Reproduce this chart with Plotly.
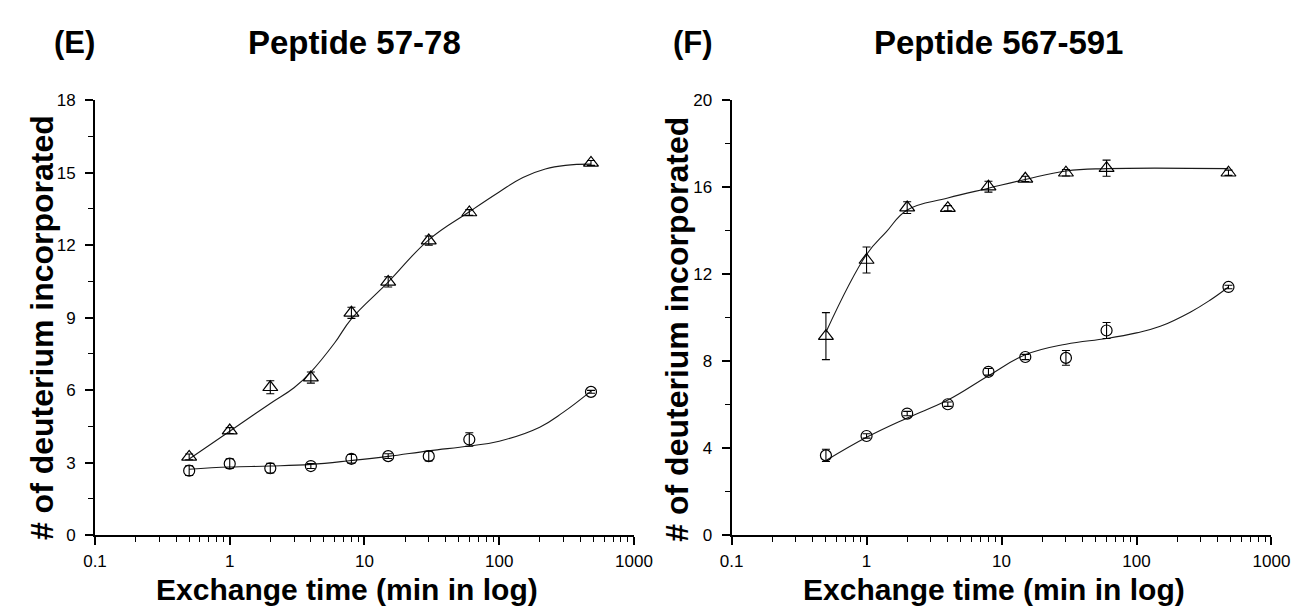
import plotly.graph_objects as go

# ---------------- data ----------------
time_min = [0.5, 1, 2, 4, 8, 15, 30, 60, 480]

# Panel E: Peptide 57-78
e_tri = [3.24, 4.33, 6.12, 6.52, 9.2, 10.48, 12.19, 13.35, 15.4]
e_tri_err = [0.12, 0.12, 0.27, 0.23, 0.23, 0.21, 0.19, 0.12, 0.1]
e_cir = [2.67, 2.96, 2.77, 2.86, 3.16, 3.27, 3.27, 3.96, 5.93]
e_cir_err = [0.2, 0.2, 0.2, 0.1, 0.18, 0.1, 0.2, 0.28, 0.06]

# Panel F: Peptide 567-591
f_tri = [9.15, 12.65, 15.06, 15.03, 16.02, 16.38, 16.66, 16.87, 16.66]
f_tri_err = [1.08, 0.6, 0.27, 0.12, 0.25, 0.12, 0.15, 0.37, 0.12]
f_cir = [3.67, 4.56, 5.59, 6.02, 7.51, 8.19, 8.15, 9.41, 11.41]
f_cir_err = [0.28, 0.1, 0.1, 0.1, 0.15, 0.12, 0.34, 0.37, 0.08]

# fitted curves
e_tri_fit_t = [0.5, 1, 2, 3, 4, 6, 8, 15, 30, 60, 100, 150, 220, 310, 480]
e_tri_fit = [3.15, 4.3, 5.45, 6.1, 6.75, 7.95, 8.95, 10.47, 12.22, 13.38, 14.2, 14.8, 15.15, 15.3, 15.35]
e_cir_fit_t = [0.5, 1, 2, 4, 8, 15, 30, 60, 100, 200, 300, 480]
e_cir_fit = [2.73, 2.82, 2.86, 2.93, 3.09, 3.26, 3.49, 3.69, 3.89, 4.47, 5.09, 5.96]
f_tri_fit_t = [0.5, 1, 1.4, 2, 4, 8, 15, 30, 60, 480]
f_tri_fit = [9.33, 12.9, 13.94, 14.95, 15.5, 15.95, 16.35, 16.74, 16.85, 16.85]
f_cir_fit_t = [0.5, 1, 2, 4, 8, 15, 30, 60, 100, 150, 250, 350, 480]
f_cir_fit = [3.43, 4.5, 5.39, 6.21, 7.33, 8.29, 8.78, 9.04, 9.3, 9.6, 10.25, 10.8, 11.41]

x_tick_vals = [0.1, 1, 10, 100, 1000]
x_tick_text = ["0.1", "1", "10", "100", "1000"]
e_y_ticks = [0, 3, 6, 9, 12, 15, 18]
f_y_ticks = [0, 4, 8, 12, 16, 20]

panel_labels = ["(E)", "(F)"]
panel_titles = ["Peptide 57-78", "Peptide 567-591"]
x_title = "Exchange time (min in log)"
y_title = "# of deuterium incorporated"

# ---------------- figure ----------------
W, H = 1311, 614
FONT = "Liberation Sans, Arial, Helvetica, sans-serif"
fig = go.Figure()

def px_x(p):
    return p / W

def px_y(p):
    return 1 - p / H

def add_panel(xa, ya, fit_sets, pt_sets):
    for t, v in fit_sets:
        fig.add_trace(go.Scatter(x=t, y=v, mode="lines", xaxis=xa, yaxis=ya,
                                 line=dict(color="#1a1a1a", width=1.1, shape="spline", smoothing=1.2),
                                 hoverinfo="skip", showlegend=False))
    for v, err, sym, size in pt_sets:
        fig.add_trace(go.Scatter(x=time_min, y=v, mode="markers", xaxis=xa, yaxis=ya,
                                 marker=dict(symbol=sym, size=size, color="black",
                                             line=dict(color="black", width=1.2)),
                                 error_y=dict(type="data", array=err, color="black",
                                              thickness=1.1, width=4),
                                 showlegend=False))

add_panel("x", "y",
          [(e_tri_fit_t, e_tri_fit), (e_cir_fit_t, e_cir_fit)],
          [(e_tri, e_tri_err, "triangle-up-open", 13), (e_cir, e_cir_err, "circle-open", 11)])
add_panel("x2", "y2",
          [(f_tri_fit_t, f_tri_fit), (f_cir_fit_t, f_cir_fit)],
          [(f_tri, f_tri_err, "triangle-up-open", 13), (f_cir, f_cir_err, "circle-open", 11)])

minor_x = [m * 10 ** k for k in (-1, 0, 1, 2) for m in range(2, 10)]

def xaxis(domain, anchor):
    return dict(type="log", domain=domain, anchor=anchor, range=[-1, 3],
                tickvals=x_tick_vals, ticktext=x_tick_text,
                ticks="outside", ticklen=8, tickwidth=1.6, tickcolor="black",
                ticklabelstandoff=2,
                showline=True, linecolor="black", linewidth=1.8,
                showgrid=False, zeroline=False, mirror=False,
                tickfont=dict(family=FONT, size=17, color="black"),
                minor=dict(tickvals=minor_x, ticks="outside", ticklen=5,
                           tickwidth=1.4, tickcolor="black", showgrid=False))

def yaxis(domain, anchor, rng, ticks, minor_step):
    return dict(domain=domain, anchor=anchor, range=rng,
                tickvals=ticks, ticks="outside", ticklen=8, tickwidth=1.6,
                tickcolor="black", ticklabelstandoff=6,
                showline=True, linecolor="black", linewidth=1.8,
                showgrid=False, zeroline=False, mirror=False,
                tickfont=dict(family=FONT, size=17, color="black"),
                minor=dict(dtick=minor_step, ticks="outside", ticklen=5,
                           tickwidth=1.4, tickcolor="black", showgrid=False))

ydom = [px_y(543), px_y(94)]
fig.update_layout(
    width=W, height=H, autosize=False,
    margin=dict(l=0, r=0, t=0, b=0),
    paper_bgcolor="white", plot_bgcolor="white",
    showlegend=False,
    xaxis=xaxis([px_x(85), px_x(637)], "y"),
    yaxis=yaxis(ydom, "x", [0, 18], e_y_ticks, 1.5),
    xaxis2=xaxis([px_x(737), px_x(1290)], "y2"),
    yaxis2=yaxis(ydom, "x2", [0, 20], f_y_ticks, 2),
)

def ann(text, x, y, size, angle=0):
    fig.add_annotation(text=f"<b>{text}</b>", x=px_x(x), y=px_y(y),
                       xref="paper", yref="paper", showarrow=False,
                       xanchor="center", yanchor="middle", textangle=angle,
                       font=dict(family=FONT, size=size, color="black"))

ann(panel_labels[0], 64, 35, 31)
ann(panel_titles[0], 351, 35, 33)
ann(panel_labels[1], 698, 35, 31)
ann(panel_titles[1], 1010, 35, 33)
ann(x_title, 343, 599, 30)
ann(x_title, 1006, 599, 30)
ann(y_title, 31, 329, 32, -90)
ann(y_title, 681, 330, 32, -90)

fig.write_html("out.html")
